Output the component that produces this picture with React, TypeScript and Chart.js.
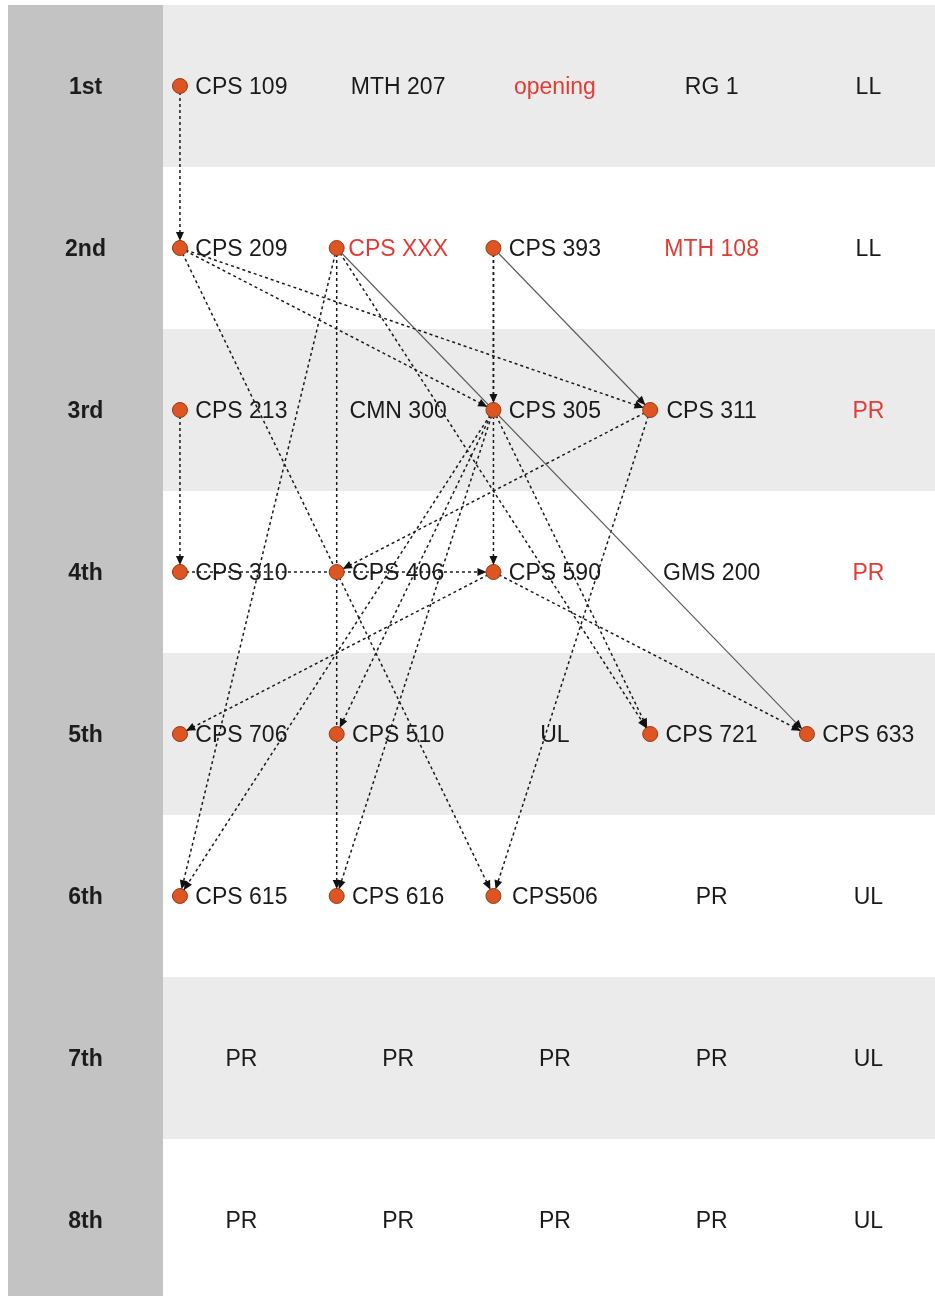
import React, { useEffect, useRef } from "react";
import { Chart, registerables } from "chart.js";

Chart.register(...registerables);

// ---- data ----
const semesters = ["1st", "2nd", "3rd", "4th", "5th", "6th", "7th", "8th"];

const sem1Courses = ["CPS 109", "MTH 207", "opening", "RG 1", "LL"];
const sem2Courses = ["CPS 209", "CPS XXX", "CPS 393", "MTH 108", "LL"];
const sem3Courses = ["CPS 213", "CMN 300", "CPS 305", "CPS 311", "PR"];
const sem4Courses = ["CPS 310", "CPS 406", "CPS 590", "GMS 200", "PR"];
const sem5Courses = ["CPS 706", "CPS 510", "UL", "CPS 721", "CPS 633"];
const sem6Courses = ["CPS 615", "CPS 616", "CPS506", "PR", "UL"];
const sem7Courses = ["PR", "PR", "PR", "PR", "UL"];
const sem8Courses = ["PR", "PR", "PR", "PR", "UL"];

// cells flagged (shown in red): semester index (1-based) and column index
const flaggedSemester = [1, 2, 2, 3, 4];
const flaggedColumn = [2, 1, 3, 4, 4];

// courses that are nodes of the prerequisite graph
const graphCourses = [
  "CPS 109", "CPS 209", "CPS XXX", "CPS 393", "CPS 213", "CPS 305", "CPS 311",
  "CPS 310", "CPS 406", "CPS 590", "CPS 706", "CPS 510", "CPS 721", "CPS 633",
  "CPS 615", "CPS 616", "CPS506",
];

// prerequisite edges
const prereqFrom = [
  "CPS 109", "CPS 213", "CPS 209", "CPS 209", "CPS 209",
  "CPS XXX", "CPS XXX", "CPS XXX", "CPS XXX",
  "CPS 393", "CPS 393", "CPS 393",
  "CPS 305", "CPS 305", "CPS 305", "CPS 305",
  "CPS 311", "CPS 311", "CPS 310", "CPS 590", "CPS 590",
];
const prereqTo = [
  "CPS 209", "CPS 310", "CPS 305", "CPS 311", "CPS506",
  "CPS 615", "CPS 616", "CPS 721", "CPS 633",
  "CPS 305", "CPS 590", "CPS 311",
  "CPS 615", "CPS 616", "CPS 510", "CPS 721",
  "CPS 406", "CPS506", "CPS 590", "CPS 706", "CPS 633",
];
const prereqKind = [
  "req", "req", "req", "req", "req",
  "req", "req", "req", "alt",
  "req", "req", "alt",
  "req", "req", "req", "req",
  "req", "req", "req", "req", "req",
];

// ---- derived ----
const grid = [
  sem1Courses, sem2Courses, sem3Courses, sem4Courses,
  sem5Courses, sem6Courses, sem7Courses, sem8Courses,
];
const DOT_OFFSET = 0.108; // dot sits near the left edge of its cell

function locate(name: string) {
  for (let r = 0; r < grid.length; r++) {
    const c = grid[r].indexOf(name);
    if (c >= 0) return { x: c + DOT_OFFSET, y: r + 0.5 };
  }
  return { x: 0, y: 0 };
}

const FONT = '"Liberation Sans", Arial, Helvetica, sans-serif';

export default function App() {
  const ref = useRef<HTMLCanvasElement | null>(null);

  useEffect(() => {
    document.body.style.margin = "0";
    const canvas = ref.current;
    if (!canvas) return;

    const edgeSets = prereqFrom.map((f, i) => {
      const solid = prereqKind[i] === "alt";
      return {
        type: "line" as const,
        label: f + "->" + prereqTo[i],
        data: [locate(f), locate(prereqTo[i])],
        showLine: true,
        borderColor: solid ? "#5a5a5a" : "#1a1a1a",
        borderWidth: solid ? 1.1 : 1.5,
        borderDash: solid ? [] : [3, 3],
        pointRadius: 0,
        fill: false,
        tension: 0,
        order: 2,
      };
    });

    const nodeSet = {
      type: "scatter" as const,
      label: "courses",
      data: graphCourses.map((n) => locate(n)),
      pointRadius: 7.5,
      pointBackgroundColor: "#dc5522",
      pointBorderColor: "#9a3a14",
      pointBorderWidth: 1,
      showLine: false,
      order: 1,
    };

    const isFlagged = (r: number, c: number) =>
      flaggedSemester.some((s, i) => s === r + 1 && flaggedColumn[i] === c);

    const bgPlugin = {
      id: "grid-bg",
      beforeDraw(chart: any) {
        const { ctx, scales } = chart;
        const xs = scales.x, ys = scales.y;
        const W = chart.width, H = chart.height;
        ctx.save();
        ctx.fillStyle = "#ffffff";
        ctx.fillRect(0, 0, W, H);
        const top = ys.getPixelForValue(0);
        const colStart = xs.getPixelForValue(0);
        const left = xs.getPixelForValue(xs.min);
        for (let r = 0; r < semesters.length; r++) {
          if (r % 2 === 0) {
            const y0 = ys.getPixelForValue(r);
            const y1 = ys.getPixelForValue(r + 1);
            ctx.fillStyle = "#ebebeb";
            ctx.fillRect(colStart, y0, W - colStart, y1 - y0);
          }
        }
        ctx.fillStyle = "#c3c3c3";
        ctx.fillRect(left, top, colStart - left, H - top);
        ctx.restore();
      },
      beforeDatasetsDraw(chart: any) {
        const { ctx, scales } = chart;
        const xs = scales.x, ys = scales.y;
        ctx.save();
        ctx.textAlign = "center";
        ctx.textBaseline = "middle";
        semesters.forEach((s, r) => {
          const ty = ys.getPixelForValue(r + 0.5) + 2;
          ctx.font = "bold 23px " + FONT;
          ctx.fillStyle = "#1c1c1c";
          ctx.fillText(s, (xs.getPixelForValue(xs.min) + xs.getPixelForValue(0)) / 2, ty);
          grid[r].forEach((name, c) => {
            ctx.font = "23px " + FONT;
            ctx.fillStyle = isFlagged(r, c) ? "#e23b35" : "#1a1a1a";
            ctx.fillText(name, xs.getPixelForValue(c + 0.5), ty);
          });
        });
        ctx.restore();
      },
      afterDatasetsDraw(chart: any) {
        const { ctx } = chart;
        ctx.save();
        chart.data.datasets.forEach((ds: any, i: number) => {
          if (ds.label === "courses") return;
          const meta = chart.getDatasetMeta(i);
          const a = meta.data[0], b = meta.data[1];
          const dx = b.x - a.x, dy = b.y - a.y;
          const len = Math.hypot(dx, dy) || 1;
          const ux = dx / len, uy = dy / len;
          const tipX = b.x - ux * 7, tipY = b.y - uy * 7;
          const baseX = tipX - ux * 9, baseY = tipY - uy * 9;
          ctx.beginPath();
          ctx.moveTo(tipX, tipY);
          ctx.lineTo(baseX - uy * 4, baseY + ux * 4);
          ctx.lineTo(baseX + uy * 4, baseY - ux * 4);
          ctx.closePath();
          ctx.fillStyle = "#111111";
          ctx.fill();
        });
        ctx.restore();
      },
    };

    const chart = new Chart(canvas, {
      type: "scatter",
      data: { datasets: [...edgeSets, nodeSet] as any },
      options: {
        animation: false,
        responsive: false,
        maintainAspectRatio: false,
        layout: { autoPadding: false, padding: { left: 8, top: 5, right: 0, bottom: 0 } },
        plugins: { legend: { display: false }, tooltip: { enabled: false } },
        scales: {
          x: { type: "linear", min: -0.989, max: 4.925, display: false },
          y: { type: "linear", min: 0, max: 7.969, reverse: true, display: false },
        },
      },
      plugins: [bgPlugin],
    });
    return () => chart.destroy();
  }, []);

  return (
    <div style={{ width: 935, height: 1296 }}>
      <canvas ref={ref} width={935} height={1296} style={{ display: "block" }} />
    </div>
  );
}
